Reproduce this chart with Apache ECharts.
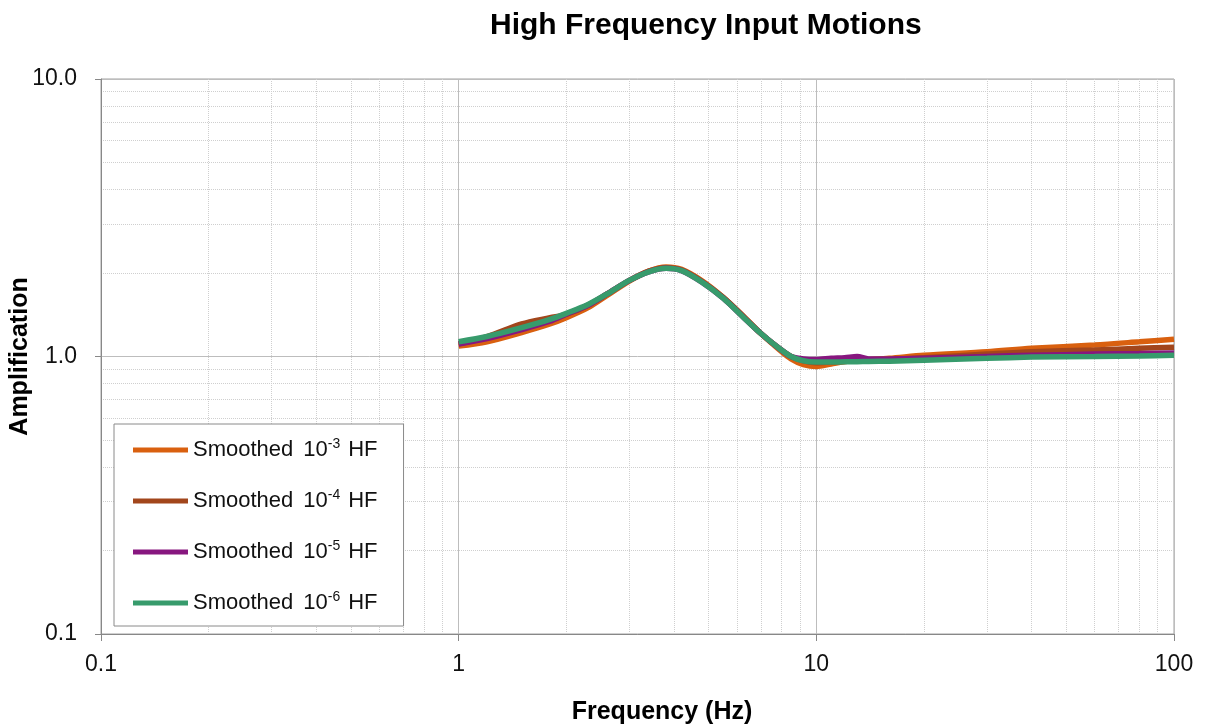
<!DOCTYPE html>
<html>
<head>
<meta charset="utf-8">
<script src="https://cdn.jsdelivr.net/npm/echarts@6/dist/echarts.min.js"></script>
<style>html,body{margin:0;padding:0;background:#fff}#c{width:1205px;height:727px}</style>
</head>
<body>
<div id="c"></div>
<script>
const freqs = [1, 1.2, 1.5, 1.8, 2, 2.3, 2.6, 3, 3.4, 3.8, 4.2, 4.8, 5.5, 6.2, 7, 7.8, 8.5, 9.2, 10, 11, 12, 13, 14, 16, 20, 30, 40, 60, 80, 100];
const hf3 = [1.09, 1.13, 1.22, 1.31, 1.38, 1.50, 1.66, 1.87, 2.03, 2.10, 2.06, 1.87, 1.63, 1.41, 1.21, 1.07, 0.98, 0.935, 0.92, 0.94, 0.96, 0.97, 0.975, 0.985, 1.01, 1.04, 1.07, 1.10, 1.13, 1.155];
const hf4 = [1.11, 1.18, 1.31, 1.38, 1.42, 1.53, 1.68, 1.88, 2.03, 2.09, 2.05, 1.86, 1.63, 1.41, 1.21, 1.08, 1.0, 0.965, 0.95, 0.955, 0.96, 0.965, 0.968, 0.975, 0.99, 1.02, 1.04, 1.055, 1.07, 1.08];
const hf5 = [1.11, 1.16, 1.25, 1.34, 1.42, 1.53, 1.68, 1.88, 2.02, 2.08, 2.04, 1.85, 1.62, 1.40, 1.21, 1.08, 1.0, 0.98, 0.975, 0.985, 0.99, 1.0, 0.98, 0.98, 0.985, 1.0, 1.01, 1.02, 1.025, 1.03];
const hf6 = [1.13, 1.18, 1.27, 1.36, 1.43, 1.54, 1.68, 1.88, 2.02, 2.08, 2.04, 1.85, 1.62, 1.40, 1.21, 1.08, 1.0, 0.965, 0.955, 0.955, 0.957, 0.958, 0.96, 0.962, 0.97, 0.985, 0.995, 1.0, 1.005, 1.01];
const seriesNames = ['Smoothed 10^-3 HF', 'Smoothed 10^-4 HF', 'Smoothed 10^-5 HF', 'Smoothed 10^-6 HF'];
const seriesData = [hf3, hf4, hf5, hf6];
const colors = ['#D9600F', '#A2461C', '#87177F', '#379B6C'];

const chart = echarts.init(document.getElementById('c'));
const font = '"Liberation Sans", Arial, sans-serif';
chart.setOption({
  animation: false,
  textStyle: { fontFamily: font },
  title: {
    text: 'High Frequency Input Motions',
    left: 485, top: 6,
    textStyle: { fontFamily: font, fontSize: 30, fontWeight: 'bold', color: '#000' }
  },
  grid: { left: 101, right: 31, top: 79, bottom: 93, show: true, borderColor: '#a0a0a0', borderWidth: 1, containLabel: false, outerBoundsMode: 'none' },
  legend: {
    orient: 'vertical', left: 114, top: 424,
    padding: [13, 26, 12, 19],
    itemGap: 27, itemWidth: 55, itemHeight: 5, itemTextGap: 5,
    icon: 'rect',
    borderColor: '#8a8a8a', borderWidth: 1, backgroundColor: '#fff',
    data: seriesNames,
    formatter: function (name) {
      const m = name.match(/^(Smoothed) 10\^(-\d) (HF)$/);
      return '{n|Smoothed}{g|10}{s|' + m[2] + '}{h|HF}';
    },
    textStyle: {
      rich: {
        n: { fontFamily: font, fontSize: 22, color: '#111', lineHeight: 26 },
        g: { fontFamily: font, fontSize: 22, color: '#111', lineHeight: 26, padding: [0, 0, 0, 10] },
        h: { fontFamily: font, fontSize: 22, color: '#111', lineHeight: 26, padding: [0, 0, 0, 8] },
        s: { fontFamily: font, fontSize: 14, color: '#111', lineHeight: 14, verticalAlign: 'top' }
      }
    }
  },
  xAxis: {
    type: 'log', logBase: 10, min: 0.1, max: 100,
    name: 'Frequency (Hz)', nameLocation: 'middle', nameGap: 66, nameMoveOverlap: false,
    nameTextStyle: { fontFamily: font, fontSize: 25, fontWeight: 'bold', color: '#000', padding: [0, 0, 0, 49] },
    axisLine: { show: true, onZero: false, lineStyle: { color: '#888', width: 1 } },
    axisTick: { show: true, length: 7, lineStyle: { color: '#888' } },
    axisLabel: { fontFamily: font, fontSize: 23, color: '#111', margin: 19 },
    splitLine: { show: true, lineStyle: { color: '#bdbdbd', width: 1, type: 'solid' } },
    minorTick: { show: false, splitNumber: 9 },
    minorSplitLine: { show: true, lineStyle: { color: '#cfcfcf', width: 1, type: 'dotted' } }
  },
  yAxis: {
    type: 'log', logBase: 10, min: 0.1, max: 10,
    name: 'Amplification', nameLocation: 'middle', nameGap: 68, nameRotate: 90, nameMoveOverlap: false,
    nameTextStyle: { fontFamily: font, fontSize: 25, fontWeight: 'bold', color: '#000' },
    axisLine: { show: true, onZero: false, lineStyle: { color: '#888', width: 1 } },
    axisTick: { show: true, length: 6, lineStyle: { color: '#888' } },
    axisLabel: { fontFamily: font, fontSize: 23, color: '#111', margin: 24, formatter: v => Number(v).toFixed(1) },
    splitLine: { show: true, lineStyle: { color: '#bdbdbd', width: 1, type: 'solid' } },
    minorTick: { show: false, splitNumber: 9 },
    minorSplitLine: { show: true, lineStyle: { color: '#cfcfcf', width: 1, type: 'dotted' } }
  },
  series: seriesNames.map((n, i) => ({
    name: n, type: 'line', smooth: 0.3, showSymbol: false, symbol: 'none',
    data: freqs.map((f, j) => [f, seriesData[i][j]]),
    lineStyle: { color: colors[i], width: 5.5 },
    itemStyle: { color: colors[i] },
    z: 2 + i
  }))
});
</script>
</body>
</html>
